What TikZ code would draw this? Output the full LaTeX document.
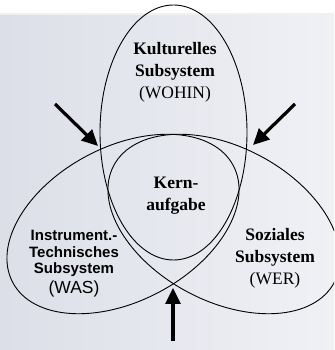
\documentclass[tikz,border=0pt]{standalone}
\usepackage{fontspec}
\setmainfont{Liberation Serif}
\newfontfamily\arialfont{Liberation Sans}
\usetikzlibrary{arrows.meta}
\definecolor{bgleft}{RGB}{220,223,232}
\definecolor{bgright}{RGB}{240,241,245}
\definecolor{topband}{RGB}{238,240,243}
\begin{document}
\begin{tikzpicture}[x=1pt,y=1pt,
  outline/.style={draw=black, line width=0.9pt},
  bigarrow/.style={draw=black, line width=3.2pt, -{Triangle[length=16pt,width=15pt]}},
  serifbox/.style={align=center, inner sep=0pt, font=\fontsize{17.5}{22}\selectfont},
  sansbox/.style={align=center, inner sep=0pt, font=\arialfont\bfseries\fontsize{15}{16.5}\selectfont}]
\useasboundingbox (0,0) rectangle (334,350);
\clip (0,0) rectangle (334,350);
\fill[white] (0,0) rectangle (334,350);
\fill[topband] (0,334) rectangle (334,337);
\shade[left color=bgleft, right color=bgright] (0,0) rectangle (334,334);
% shapes
\draw[outline] (173.5,217.5) ellipse [x radius=73.5pt, y radius=127.5pt];
\draw[outline, rotate around={27.9:(123,126)}] (123,126) ellipse [x radius=124.8pt, y radius=77.1pt];
\draw[outline, rotate around={-27.9:(224,126)}] (224,126) ellipse [x radius=124.8pt, y radius=77.1pt];
% texts
\node[serifbox] (kultur) at (175,278) {\textbf{Kulturelles}\\\textbf{Subsystem}\\(WOHIN)};
\node[serifbox] (kern) at (176,154) {\textbf{Kern-}\\\textbf{aufgabe}};
\node[serifbox] (sozial) at (275,91.5) {\textbf{Soziales}\\\textbf{Subsystem}\\(WER)};
\node[sansbox] (instr) at (74,86.5) {Instrument.-\\Technisches\\Subsystem\\[3pt]{\mdseries\fontsize{17.5}{20}\selectfont (WAS)}};
% arrows
\coordinate (a1s) at (55,246);
\coordinate (a1t) at (98,204);
\coordinate (a2s) at (295,246);
\coordinate (a2t) at (253,205);
\coordinate (a3s) at (173,9);
\coordinate (a3t) at (173,62);
\draw[bigarrow] (a1s) -- (a1t);
\draw[bigarrow] (a2s) -- (a2t);
\draw[bigarrow] (a3s) -- (a3t);
\end{tikzpicture}
\end{document}
